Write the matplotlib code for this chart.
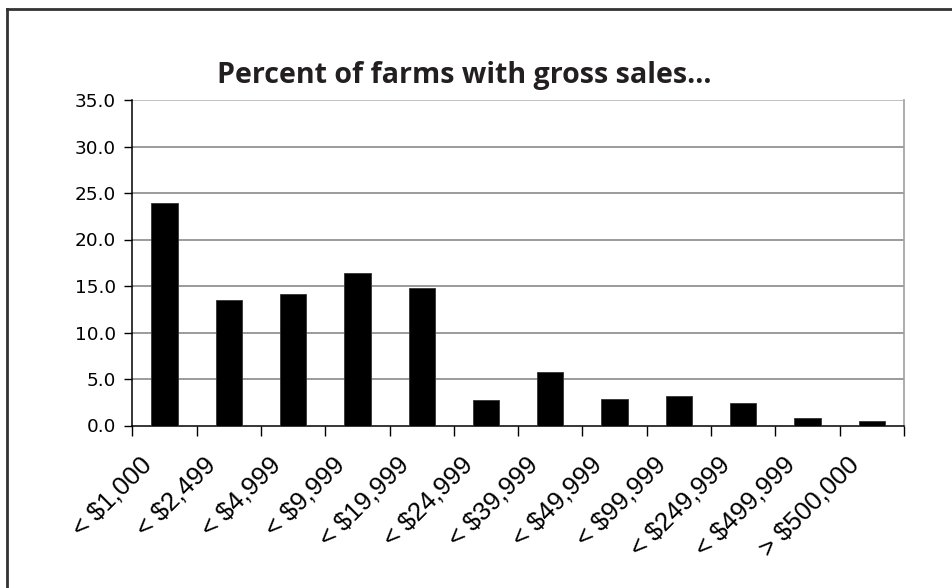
import matplotlib
matplotlib.use("Agg")
import matplotlib.pyplot as plt
from matplotlib.lines import Line2D
import numpy as np

categories = ["< $1,000", "< $2,499", "< $4,999", "< $9,999", "< $19,999",
              "< $24,999", "< $39,999", "< $49,999", "< $99,999",
              "< $249,999", "< $499,999", "> $500,000"]
values = [23.9, 13.5, 14.1, 16.4, 14.8, 2.7, 5.7, 2.85, 3.15, 2.4, 0.8, 0.45]
yticks = [0, 5, 10, 15, 20, 25, 30, 35]
title = "Percent of farms with gross sales..."

W, H = 952, 588
fig = plt.figure(figsize=(W/100, H/100), dpi=100)
ax = fig.add_axes([132.3/W, 1-425.5/H, (904-132.3)/W, (425.5-100)/H])

x = np.arange(len(categories))
ax.bar(x, values, width=0.41, color="black", edgecolor="#333333", linewidth=0.6, zorder=3)
ax.set_xlim(-0.5, len(categories)-0.5)
ax.set_ylim(0, 35)

ax.set_yticks(yticks)
ax.set_yticklabels([f"{v:.1f}" for v in yticks], family="DejaVu Sans", fontsize=13.3)
for yv in yticks[1:]:
    ax.axhline(yv, color="#808080" if yv < 35 else "#b0b0b0", linewidth=1.1, zorder=1)

ax.set_xticks(np.arange(-0.5, len(categories)))
ax.set_xticklabels([])
for xi, cat in zip(x, categories):
    ax.annotate(cat, xy=(xi, 0), xycoords=ax.get_xaxis_transform(),
                xytext=(-25, -27), textcoords="offset pixels",
                ha="right", va="top", rotation=45, rotation_mode="anchor",
                family="Liberation Sans", fontsize=18.5, annotation_clip=False)
ax.tick_params(axis="x", direction="out", length=7, width=1, color="black")
ax.tick_params(axis="y", direction="out", length=6, width=1, pad=6)

for s in ["left", "bottom"]:
    ax.spines[s].set_color("black")
    ax.spines[s].set_linewidth(1.1)
ax.spines["top"].set_visible(False)
ax.spines["right"].set_color("#a0a0a0")
ax.spines["right"].set_linewidth(1.2)

fig.text(464/W, 1-76/H, title, ha="center", va="center", family="Open Sans",
         fontweight="bold", fontsize=20.6, color="#231f20")

# outer chart frame (left and top edges visible)
fig.add_artist(Line2D([7/W, 7/W], [0, 1-9/H], transform=fig.transFigure, color="#333333", linewidth=2))
fig.add_artist(Line2D([7/W, 1], [1-9/H, 1-9/H], transform=fig.transFigure, color="#333333", linewidth=2))

fig.savefig("out.png", dpi=100)
